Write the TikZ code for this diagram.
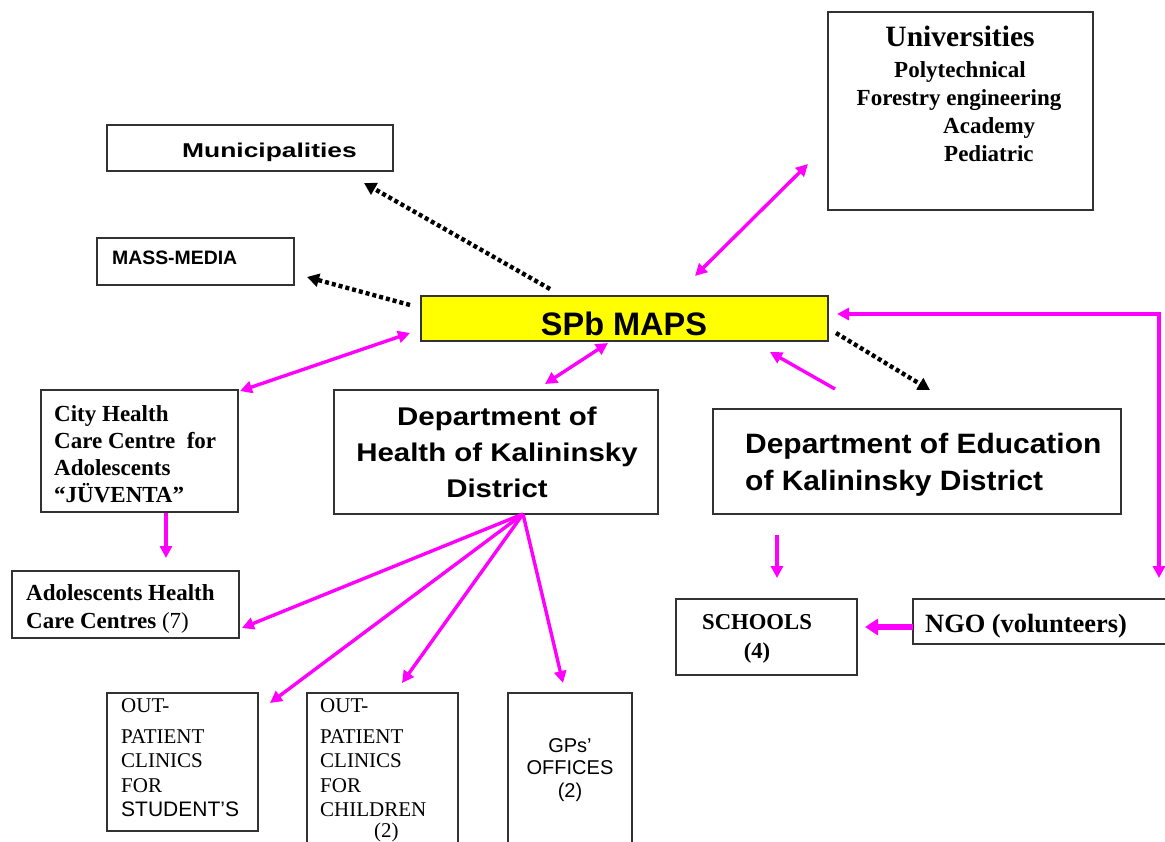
\documentclass[tikz,border=0pt]{standalone}
\usepackage{fontspec}
\setmainfont{Liberation Serif}
\setsansfont{Liberation Sans}
\usepackage{graphicx}
\usetikzlibrary{arrows.meta}
\definecolor{mag}{RGB}{255,0,255}
\definecolor{mapsyellow}{RGB}{255,255,0}
\definecolor{boxline}{RGB}{50,50,50}
\newcommand\stackL[2]{\vtop{\baselineskip=#1\relax\lineskiplimit=-1000pt\relax\lineskip=0pt\relax\halign{##\hfil\cr#2\crcr}}}
\newcommand\stackC[2]{\vtop{\baselineskip=#1\relax\lineskiplimit=-1000pt\relax\lineskip=0pt\relax\halign{\hfil##\hfil\cr#2\crcr}}}
\begin{document}
\begin{tikzpicture}[x=1pt,y=-1pt,
  box/.style={draw=boxline, line width=1.3pt, inner sep=0pt, fill=white},
  txt/.style={inner sep=0pt, anchor=base west},
  txtc/.style={inner sep=0pt, anchor=base},
  dotarrow/.style={line width=4.4pt, dash pattern=on 4pt off 3pt, -{Triangle[length=12pt,width=13pt]}},
  magline/.style={draw=mag, line width=3.4pt},
  magtip/.style={-{Triangle[length=12pt,width=12pt]}},
  magboth/.style={{Triangle[length=12pt,width=12pt]}-{Triangle[length=12pt,width=12pt]}},
  sansB/.style={font=\sffamily\bfseries\fontsize{#1}{#1}\selectfont},
  serifB/.style={font=\bfseries\fontsize{#1}{#1}\selectfont},
  serifR/.style={font=\fontsize{#1}{#1}\selectfont},
  sansR/.style={font=\sffamily\fontsize{#1}{#1}\selectfont}]
\useasboundingbox (0,0) rectangle (1165,841);
\fill[white] (0,0) rectangle (1165,841);

% boxes
\node[box, minimum width=265pt, minimum height=198pt] (univ) at (960.5,111) {};
\node[box, minimum width=286pt, minimum height=46pt] (muni) at (250,148) {};
\node[box, minimum width=197pt, minimum height=47pt] (media) at (195.5,261.5) {};
\node[box, fill=mapsyellow, minimum width=407pt, minimum height=45pt] (spb) at (624.5,318.5) {};
\node[box, minimum width=197pt, minimum height=122pt] (city) at (139.5,451) {};
\node[box, minimum width=227pt, minimum height=67pt] (adol) at (125.5,604.5) {};
\node[box, minimum width=324pt, minimum height=124pt] (dh) at (496,452) {};
\node[box, minimum width=408pt, minimum height=105pt] (de) at (917,461.5) {};
\node[box, minimum width=181pt, minimum height=76pt] (sch) at (766.5,637) {};
\node[box, minimum width=267pt, minimum height=45pt] (ngo) at (1046.5,621.5) {};
\node[box, minimum width=151pt, minimum height=138pt] (stud) at (182.5,762) {};
\node[box, minimum width=151pt, minimum height=157pt] (chil) at (382.5,771.5) {};
\node[box, minimum width=124pt, minimum height=157pt] (gps) at (570,771.5) {};

% texts
\node[txtc, serifB=29.5] (tuni) at (960,46) {Universities};
\node[txtc, serifB=23] (tpoly) at (960,77) {Polytechnical};
\node[txtc, serifB=23] (tfor) at (959,105) {Forestry engineering};
\node[txt, serifB=23] (tacad) at (943,133) {Academy};
\node[txt, serifB=23] (tped) at (944,161) {Pediatric};
\node[txt, sansB=20] (tmuni) at (182,157) {\scalebox{1.32}[1]{Municipalities}};
\node[txt, sansB=19.4] (tmedia) at (112,264) {MASS-MEDIA};
\node[txtc, sansB=32.5] (tspb) at (624,335) {SPb MAPS};
\node[txt, serifB=23] (tcity) at (54,421) {\stackL{27.3pt}{City Health\cr Care Centre\ \ for\cr Adolescents\cr “JÜVENTA”}};
\node[txt, serifB=23] (tadol) at (26,600) {\stackL{28pt}{Adolescents Health\cr Care Centres {\mdseries(7)}}};
\node[txtc, sansB=25.6] (tdh) at (497,425) {\scalebox{1.15}[1]{\stackC{36pt}{Department of\cr Health of Kalininsky\cr District}}};
\node[txt, sansB=28] (tde) at (745,453) {\scalebox{1.07}[1]{\stackL{37pt}{Department of Education\cr of Kalininsky District}}};
\node[txtc, serifB=22.7] (tsch) at (757,629) {\stackC{29pt}{SCHOOLS\cr (4)}};
\node[txt, serifB=26.4] (tngo) at (925,632) {NGO (volunteers)};
\node[txt, serifR=21] (tstud) at (121,712) {\stackL{24.5pt}{OUT-\cr\noalign{\kern6.5pt}PATIENT\cr CLINICS\cr FOR\cr {\sffamily STUDENT’S}}};
\node[txt, serifR=21] (tchil) at (320,712) {\stackL{24.5pt}{OUT-\cr\noalign{\kern6.5pt}PATIENT\cr CLINICS\cr FOR\cr CHILDREN\cr\noalign{\kern-3.5pt}\hskip54pt(2)}};
\node[txtc, sansR=20] (tgps) at (570,752) {\stackC{22.5pt}{GPs’\cr OFFICES\cr (2)}};

% connector end points
\coordinate (d1s) at (550,289); \coordinate (d1e) at (364,183);
\coordinate (d2s) at (410,305); \coordinate (d2e) at (307,277);
\coordinate (d3s) at (836,333); \coordinate (d3e) at (930,390);
\coordinate (u1) at (695,276);  \coordinate (u2) at (808,164);
\coordinate (c1) at (410,333);  \coordinate (c2) at (240,391);
\coordinate (h1) at (608,343);  \coordinate (h2) at (545,384);
\coordinate (e1) at (835,389);  \coordinate (e2) at (770,352);
\coordinate (l1) at (837,314);  \coordinate (l2) at (1159,314); \coordinate (l3) at (1159,578);
\coordinate (j1) at (166,513);  \coordinate (j2) at (166,558);
\coordinate (fan) at (523,514);
\coordinate (f1) at (242,628);  \coordinate (f2) at (270,703);
\coordinate (f3) at (402,683);  \coordinate (f4) at (563,683);
\coordinate (s1) at (777,535);  \coordinate (s2) at (777,578);
\coordinate (n1) at (913,627);  \coordinate (n2) at (865,627);

% dotted black arrows
\draw[dotarrow] (d1s) -- (d1e);
\draw[dotarrow] (d2s) -- (d2e);
\draw[dotarrow] (d3s) -- (d3e);

% magenta arrows
\draw[magline, magboth] (u1) -- (u2);
\draw[magline, magboth] (c1) -- (c2);
\draw[magline, magboth] (h1) -- (h2);
\draw[magline, magtip] (e1) -- (e2);
\draw[magline, magboth] (l1) -- (l2) -- (l3);
\draw[magline, magtip] (j1) -- (j2);
\draw[magline, magtip] (fan) -- (f1);
\draw[magline, magtip] (fan) -- (f2);
\draw[magline, magtip] (fan) -- (f3);
\draw[magline, magtip] (fan) -- (f4);
\draw[magline, magtip] (s1) -- (s2);
\draw[magline, line width=5.5pt, -{Triangle[length=13pt,width=16pt]}] (n1) -- (n2);
\end{tikzpicture}
\end{document}
